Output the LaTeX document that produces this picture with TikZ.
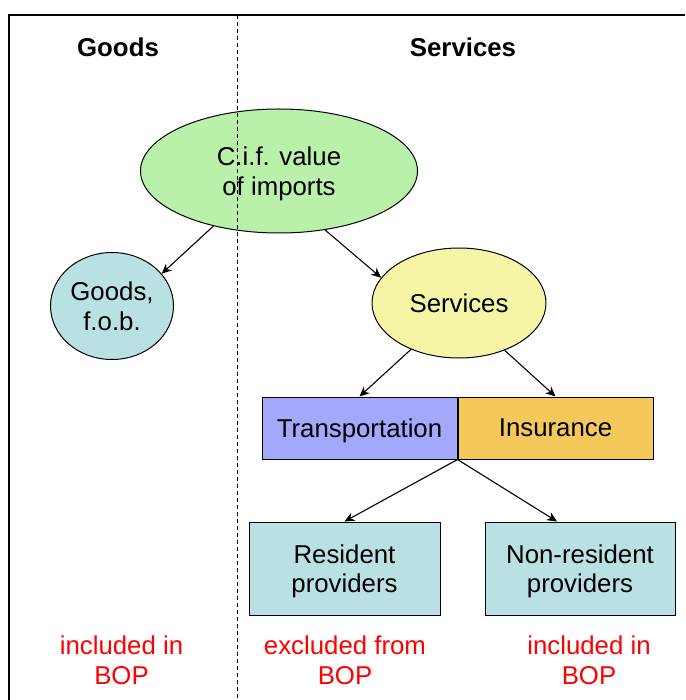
\documentclass[tikz,border=0pt]{standalone}
\usepackage{fontspec}
\setmainfont{Liberation Sans}
\usetikzlibrary{positioning, shapes, arrows.meta}

\definecolor{cifgreen}{RGB}{185,240,170}
\definecolor{goodsteal}{RGB}{185,224,227}
\definecolor{servyellow}{RGB}{245,245,165}
\definecolor{transblue}{RGB}{163,168,250}
\definecolor{insurorange}{RGB}{245,200,90}

\begin{document}
\begin{tikzpicture}[x=1pt, y=-1pt,
    every node/.style={font=\fontsize{25.8}{29.5}\selectfont, align=center, text depth=0pt},
    head/.style={font=\bfseries\fontsize{25.8}{29.5}\selectfont},
    blob/.style={ellipse, draw, line width=1pt, inner sep=0pt},
    box/.style={rectangle, draw, line width=1pt, inner sep=0pt},
    flow/.style={-{Stealth[length=10pt, width=9pt]}, line width=1.1pt},
    verdict/.style={text=red}]
\useasboundingbox (0,0) rectangle (685,700);

% frame
\draw[line width=1.3pt] (9,700) |- (685,15);

\node[head] (goodshead) at (118,47) {Goods};
\node[head] (servhead) at (463,47) {Services};

\node[blob, fill=cifgreen, minimum width=277pt, minimum height=124pt] (cif) at (279,171) {C.i.f. value\\of imports};
\node[blob, fill=goodsteal, minimum width=123pt, minimum height=107pt] (goods) at (112,306) {Goods,\\f.o.b.};
\node[blob, fill=servyellow, minimum width=174pt, minimum height=110pt] (serv) at (459,303) {Services};

\node[box, fill=transblue, minimum width=195pt, minimum height=62pt] (trans) at (359.5,428) {Transportation};
\node[box, fill=insurorange, minimum width=195pt, minimum height=62pt, right=0pt of trans] (insur) {Insurance};

\node[box, fill=goodsteal, minimum width=191pt, minimum height=93pt] (resid) at (344.5,568.5) {Resident\\providers};
\node[box, fill=goodsteal, minimum width=190pt, minimum height=93pt] (nonres) at (580,568.5) {Non-resident\\providers};

\node[verdict] (incgoods) at (121.5,660) {included in\\BOP};
\node[verdict] (excresid) at (345,660) {excluded from\\BOP};
\node[verdict] (incnonres) at (589,660) {included in\\BOP};

\draw[flow] (cif.220) -- (goods.33);
\draw[flow] (cif.-52) -- (serv.162);
\draw[flow] (serv.224) -- (trans.north);
\draw[flow] (serv.-46) -- (insur.north);
\draw[flow] (trans.south east) -- (resid.north);
\draw[flow] (trans.south east) -- ([xshift=-23pt]nonres.north);

% divider between goods and services
\coordinate (divtop) at (237,15);
\coordinate (divbot) at (237,700);
\draw[dash pattern=on 4pt off 3pt, line width=1pt] (divtop) -- (divbot);
\end{tikzpicture}
\end{document}
